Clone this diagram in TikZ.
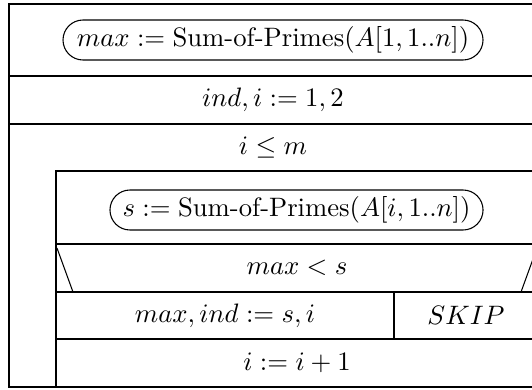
\documentclass[tikz,border=0pt]{standalone}
\begin{document}
\begin{tikzpicture}[x=0.375pt, y=-0.375pt,
        call/.style={draw, rounded corners=7.5pt, minimum height=15pt, inner sep=0pt}]
        \useasboundingbox (0,0) rectangle (532,389);
        \clip (0,0) rectangle (532,389);

        % Outer frame
        \draw (9,4) rectangle (538,387);
        \foreach \y in {76,124} {
            \draw (9,\y) -- (538,\y);
        }

        % Loop body
        \draw (56,171) rectangle (538,387);
        \foreach \y in {244,292,339} {
            \draw (56,\y) -- (538,\y);
        }
        \draw (394,292) -- (394,339);

        % Branch corners
        \draw (57,248) -- (73,292);
        \draw (537,248) -- (521,292);

        % Texts
        \node[call, minimum width=157.5pt] (init) at (273,40) {$max := \textrm{Sum-of-Primes}(A[1,1..n])$};
        \node (assign) at (273,100) {$ind, i := 1, 2$};
        \node (cond) at (273,148) {$i \leq m$};
        \node[call, minimum width=139.9pt] (sum) at (296.5,210) {$s := \textrm{Sum-of-Primes}(A[i,1..n])$};
        \node (test) at (297,268) {$max < s$};
        \node (yes) at (225,315.5) {$max, ind := s, i$};
        \node (no) at (466,315.5) {$SKIP$};
        \node (incr) at (297,363) {$i := i + 1$};
    \end{tikzpicture}
\end{document}
